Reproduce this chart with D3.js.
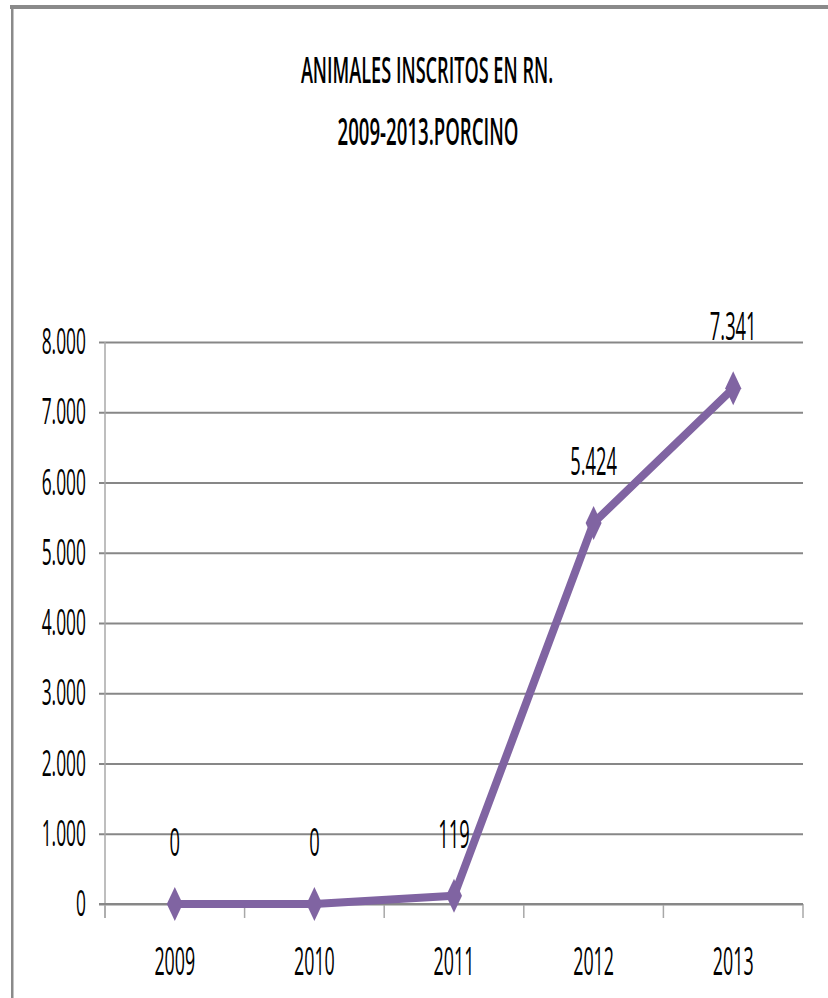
<!DOCTYPE html>
<html>
<head>
<meta charset="utf-8">
<script src="https://cdn.jsdelivr.net/npm/d3@7"></script>
<style>
  html, body { margin: 0; padding: 0; background: #fff; }
  svg { display: block; }
  text { font-family: "Open Sans", "DejaVu Sans Condensed", sans-serif; fill: #000; }
</style>
</head>
<body>
<svg id="chart" width="828" height="998"></svg>
<script>
// ---- data ----
const categories = ["2009", "2010", "2011", "2012", "2013"];
const values = [0, 0, 119, 5424, 7341];
const yTicks = [0, 1000, 2000, 3000, 4000, 5000, 6000, 7000, 8000];
const titleLines = ["ANIMALES INSCRITOS EN RN.", "2009-2013.PORCINO"];

// ---- layout ----
const W = 828, H = 998;
const pLeft = 105, pRight = 803, pTop = 342, pBottom = 904;
const purple = "#8064A2";
const gridColor = "#878787";
const SX = 0.47; // horizontal compression of the condensed font

const svg = d3.select("#chart");
const loc = d3.formatLocale({ decimal: ",", thousands: ".", grouping: [3], currency: ["", "€"] });
const fmt = loc.format(",d");

const x = d3.scaleBand().domain(categories).range([pLeft, pRight]).padding(0);
const y = d3.scaleLinear().domain([0, 8000]).range([pBottom, pTop]);

function label(g, txt, px, py, size, anchor, sx, weight) {
  return g.append("text")
    .attr("transform", `translate(${px},${py}) scale(${sx || SX},1)`)
    .attr("text-anchor", anchor || "middle")
    .style("font-size", size + "px")
    .style("font-weight", weight || 400)
    .text(txt);
}

// frame (only top and left edges visible)
svg.append("rect").attr("x", 10).attr("y", 5).attr("width", W - 10).attr("height", 4).attr("fill", "#8a8a8a");
svg.append("rect").attr("x", 11).attr("y", 5).attr("width", 2.5).attr("height", H - 5).attr("fill", "#8a8a8a");

// title
label(svg, titleLines[0], 427, 83, 37, "middle", 0.49, 600);
label(svg, titleLines[1], 428, 145, 38, "middle", 0.49, 600);

// y gridlines via d3 axis
const yAxis = d3.axisLeft(y).tickValues(yTicks).tickFormat(fmt).tickSizeInner(-(pRight - pLeft)).tickSizeOuter(0).tickPadding(0);
const yg = svg.append("g").attr("transform", `translate(${pLeft},0)`).call(yAxis);
yg.select(".domain").remove();
yg.selectAll(".tick line").attr("x1", -6).attr("x2", pRight - pLeft).attr("stroke", gridColor).attr("stroke-width", 2);
yg.selectAll(".tick text").remove();
yTicks.forEach(v => label(svg, fmt(v), pLeft - 19, y(v) + 12, 37, "end"));

// vertical axis line
svg.append("line").attr("x1", pLeft).attr("x2", pLeft).attr("y1", pTop).attr("y2", pBottom + 14)
  .attr("stroke", "#a8a8a8").attr("stroke-width", 1.5);

// x axis category ticks
const xBounds = categories.map(c => x(c)).concat([x(categories[categories.length - 1]) + x.bandwidth()]);
svg.append("g").selectAll("line").data(xBounds).join("line")
  .attr("x1", d => d).attr("x2", d => d).attr("y1", pBottom).attr("y2", pBottom + 14)
  .attr("stroke", "#a8a8a8").attr("stroke-width", 1.5);
svg.append("line").attr("x1", pLeft - 6).attr("x2", pRight).attr("y1", y(0)).attr("y2", y(0))
  .attr("stroke", gridColor).attr("stroke-width", 2);

// x labels
categories.forEach(c => label(svg, c, x(c) + x.bandwidth() / 2, 975, 38));

// line
const cx = c => x(c) + x.bandwidth() / 2;
const lineGen = d3.line().x((d, i) => cx(categories[i])).y(d => y(d));
svg.append("path").datum(values).attr("d", lineGen)
  .attr("fill", "none").attr("stroke", purple).attr("stroke-width", 8)
  .attr("stroke-linejoin", "round");

// diamond markers
svg.append("g").selectAll("path").data(values).join("path")
  .attr("transform", (d, i) => `translate(${cx(categories[i])},${y(d)})`)
  .attr("d", "M0,-17L8,0L0,17L-8,0Z")
  .attr("fill", purple);

// data labels
values.forEach((v, i) => label(svg, fmt(v), cx(categories[i]), y(v) - 48, 39));
</script>
</body>
</html>
